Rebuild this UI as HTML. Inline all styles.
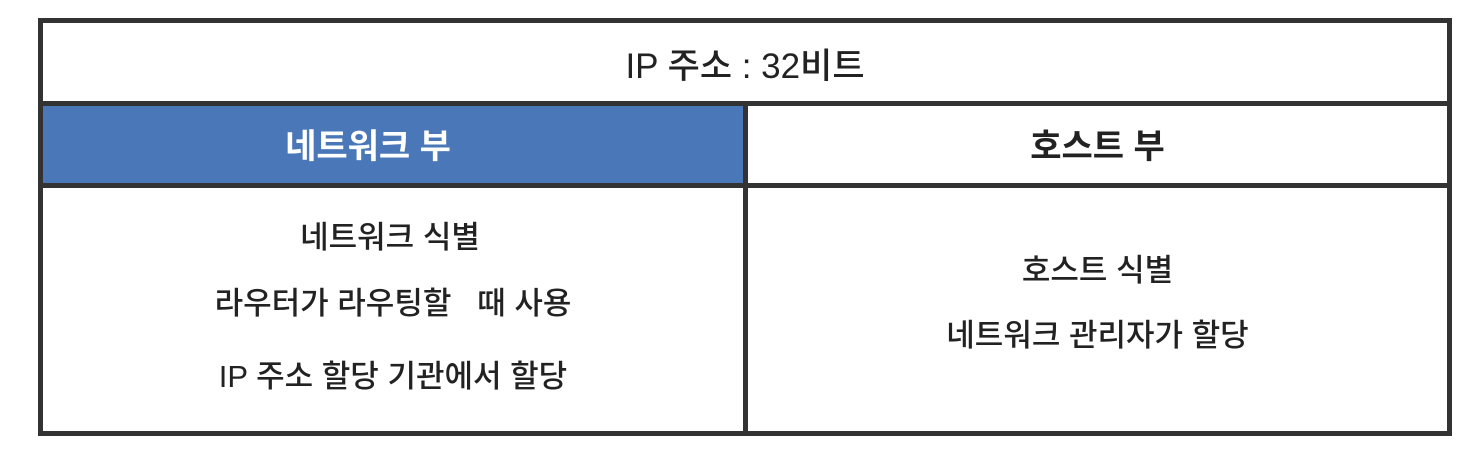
<!DOCTYPE html>
<html><head><meta charset="utf-8"><style>
html,body{margin:0;padding:0;background:#fff;width:1482px;height:466px;overflow:hidden}
body{font-family:"Liberation Sans","Noto Sans CJK KR","NanumGothic",sans-serif;color:#222}
.b{position:absolute;background:#333}
.t{position:absolute;text-align:center;line-height:1;font-size:31px;font-weight:500;white-space:pre}
</style></head><body>
<div style="position:absolute;left:0;top:0;width:1482px;height:466px">
<div style="position:absolute;left:42px;top:106px;width:703px;height:78px;background:#4a77b8"></div>
<div class="b" style="left:38px;top:18px;width:1414px;height:5px"></div>
<div class="b" style="left:38px;top:431px;width:1414px;height:5px"></div>
<div class="b" style="left:38px;top:18px;width:5px;height:418px"></div>
<div class="b" style="left:1447px;top:18px;width:5px;height:418px"></div>
<div class="b" style="left:38px;top:101px;width:1414px;height:5px"></div>
<div class="b" style="left:38px;top:183px;width:1414px;height:5px"></div>
<div class="b" style="left:743px;top:101px;width:5px;height:335px"></div>
<div class="t" style="left:43px;width:1404px;top:49px;font-size:35px">IP 주소 : 32비트</div>
<div class="t" style="left:18px;width:700px;top:130px;color:#fff;font-weight:bold;font-size:34px">네트워크 부</div>
<div class="t" style="left:748px;width:699px;top:130px;font-weight:bold;font-size:34px">호스트 부</div>
<div class="t" style="left:40px;width:700px;top:222px">네트워크 식별</div>
<div class="t" style="left:43px;width:700px;top:288px">라우터가 라우팅할   때 사용</div>
<div class="t" style="left:43px;width:700px;top:361px">IP 주소 할당 기관에서 할당</div>
<div class="t" style="left:748px;width:699px;top:255px">호스트 식별</div>
<div class="t" style="left:748px;width:699px;top:320px">네트워크 관리자가 할당</div>
</div>
</body></html>
